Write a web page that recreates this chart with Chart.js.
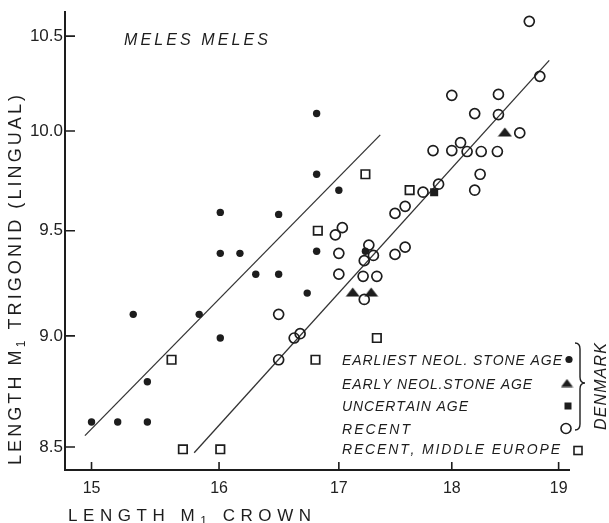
<!DOCTYPE html>
<html>
<head>
<meta charset="utf-8">
<script src="https://cdn.jsdelivr.net/npm/chart.js"></script>
<style>
  html, body { margin: 0; padding: 0; background: #fff; }
  #wrap { width: 609px; height: 523px; position: relative; }
</style>
</head>
<body>
<div id="wrap"><canvas id="chart"></canvas></div>
<script>
// Meles meles, M1 crown length vs trigonid length (log-log)
const seriesNames = ['EARLIEST NEOL. STONE AGE', 'EARLY NEOL.STONE AGE', 'UNCERTAIN AGE', 'RECENT', 'RECENT, MIDDLE EUROPE'];

const earliestX = [15.00, 15.20, 15.43, 15.43, 15.32, 15.84, 16.01, 16.01, 16.17, 16.01, 16.49, 16.30, 16.49, 16.73, 16.81, 16.81, 16.81, 17.00, 17.23];
const earliestY = [8.61, 8.61, 8.61, 8.79, 9.10, 9.10, 8.99, 9.39, 9.39, 9.59, 9.58, 9.29, 9.29, 9.20, 9.40, 9.78, 10.09, 9.70, 9.40];

const earlyX = [17.12, 17.28, 18.49];
const earlyY = [9.205, 9.205, 9.995];

const uncertainX = [17.84];
const uncertainY = [9.69];

const recentX = [16.49, 16.49, 16.62, 16.67, 16.97, 17.03, 17.00, 17.00, 17.26, 17.22, 17.30, 17.21, 17.33, 17.22,
                 17.49, 17.58, 17.49, 17.58, 17.74, 17.88, 17.83, 18.00, 18.08, 18.14, 18.27, 18.42, 18.26, 18.21,
                 18.00, 18.21, 18.43, 18.43, 18.63, 18.82, 18.72];
const recentY = [9.10, 8.89, 8.99, 9.01, 9.48, 9.515, 9.39, 9.29, 9.43, 9.355, 9.38, 9.28, 9.28, 9.17,
                 9.585, 9.62, 9.385, 9.42, 9.69, 9.73, 9.90, 9.90, 9.94, 9.895, 9.895, 9.895, 9.78, 9.70,
                 10.185, 10.09, 10.19, 10.085, 9.99, 10.285, 10.58];

const europeX = [15.62, 15.71, 16.01, 16.80, 16.82, 17.23, 17.33, 17.62];
const europeY = [8.89, 8.49, 8.49, 8.89, 9.50, 9.78, 8.99, 9.70];

// fitted lines (end points)
const fitLeftX = [14.95, 17.36];
const fitLeftY = [8.55, 9.98];
const fitRightX = [15.80, 18.91];
const fitRightY = [8.475, 10.37];

const xTicks = [15, 16, 17, 18, 19];
const yTicks = [8.5, 9.0, 9.5, 10.0, 10.5];

const ink = '#1d1d1d';
const sans = '"Liberation Sans", Arial, sans-serif';

function pts(xs, ys) {
    return xs.map((x, i) => ({x: x, y: ys[i]}));
}

function makeTriangle(w, h) {
    let c = document.createElement('canvas');
    c.width = w;
    c.height = h;
    let g = c.getContext('2d');
    g.fillStyle = ink;
    g.beginPath();
    g.moveTo(w / 2, 0.5);
    g.lineTo(w - 0.5, h - 0.5);
    g.lineTo(0.5, h - 0.5);
    g.closePath();
    g.fill();
    return c;
}

const triangle = makeTriangle(15, 10);
const legendTriangle = makeTriangle(13, 9);

// draws text with letters spread to a given length
function spaced(ctx, parts, style, x, y, len, angle) {
    ctx.save();
    ctx.translate(x, y);
    ctx.rotate(angle);
    ctx.textAlign = 'left';
    ctx.textBaseline = 'alphabetic';
    let chars = [];
    parts.forEach(p => {
        let font = style + ' ' + p.s + 'px ' + sans;
        ctx.font = font;
        for (const c of p.t) {
            chars.push({c: c, font: font, dy: p.dy || 0, w: ctx.measureText(c).width});
        }
    });
    let natural = chars.reduce((s, c) => s + c.w, 0);
    let gap = (len - natural) / (chars.length - 1);
    let cx = 0;
    chars.forEach(ch => {
        ctx.font = ch.font;
        ctx.fillText(ch.c, cx, ch.dy);
        cx += ch.w + gap;
    });
    ctx.restore();
}

const annotate = {
    id: 'annotate',
    afterDraw(chart) {
        const ctx = chart.ctx;
        const a = chart.chartArea;
        const sx = chart.scales.x;
        const sy = chart.scales.y;
        ctx.save();
        ctx.strokeStyle = ink;
        ctx.fillStyle = ink;

        // inward tick marks
        ctx.lineWidth = 1.6;
        ctx.beginPath();
        xTicks.forEach(v => {
            let p = sx.getPixelForValue(v);
            ctx.moveTo(p, a.bottom);
            ctx.lineTo(p, a.bottom - 8);
        });
        yTicks.forEach(v => {
            let p = sy.getPixelForValue(v);
            ctx.moveTo(a.left, p);
            ctx.lineTo(a.left + 10, p);
        });
        ctx.stroke();

        // axis titles
        spaced(ctx, [{t: 'LENGTH M', s: 17}, {t: '1', s: 12, dy: 4}, {t: ' CROWN', s: 17}], 'normal', 68, 521, 243, 0);
        spaced(ctx, [{t: 'LENGTH M', s: 18}, {t: '1', s: 12, dy: 4}, {t: ' TRIGONID (LINGUAL)', s: 18}], 'normal', 20.5, 465, 370, -Math.PI / 2);

        // species name
        spaced(ctx, [{t: 'MELES MELES', s: 16}], 'italic', 124, 45, 144, 0);

        // legend text
        const rows = [359.5, 383.5, 405.5, 428.5, 448.5];
        const widths = [220, 190, 126, 68, 218];
        seriesNames.forEach((name, i) => {
            spaced(ctx, [{t: name, s: 14}], 'italic', 342, rows[i] + 5, widths[i], 0);
        });

        // legend symbols
        ctx.beginPath();
        ctx.arc(569, 359.5, 3.6, 0, Math.PI * 2);
        ctx.fill();
        ctx.drawImage(legendTriangle, 567 - 6.5, 383 - 4.5);
        ctx.fillRect(568 - 3.5, 406 - 3.5, 7, 7);
        ctx.lineWidth = 1.6;
        ctx.beginPath();
        ctx.arc(566, 428.5, 5, 0, Math.PI * 2);
        ctx.stroke();
        ctx.strokeRect(578 - 4, 450.5 - 4, 8, 8);

        // brace and DENMARK
        ctx.lineWidth = 1.4;
        ctx.beginPath();
        ctx.moveTo(575, 343);
        ctx.quadraticCurveTo(580, 343, 580, 349);
        ctx.lineTo(580, 377);
        ctx.quadraticCurveTo(580, 383, 585, 383);
        ctx.quadraticCurveTo(580, 383, 580, 389);
        ctx.lineTo(580, 424);
        ctx.quadraticCurveTo(580, 430, 575, 430);
        ctx.stroke();
        spaced(ctx, [{t: 'DENMARK', s: 16}], 'italic', 606, 430, 87, -Math.PI / 2);

        ctx.restore();
    }
};

const openStyle = {backgroundColor: 'rgba(0,0,0,0)', borderColor: ink, borderWidth: 1.7};

new Chart(document.getElementById('chart'), {
    type: 'scatter',
    data: {
        datasets: [
            {label: 'fit left', data: pts(fitLeftX, fitLeftY), showLine: true, pointRadius: 0,
             borderColor: '#333', borderWidth: 1.3, order: 10},
            {label: 'fit right', data: pts(fitRightX, fitRightY), showLine: true, pointRadius: 0,
             borderColor: '#333', borderWidth: 1.3, order: 10},
            {label: seriesNames[0], data: pts(earliestX, earliestY), pointStyle: 'circle', pointRadius: 3.7,
             backgroundColor: ink, borderWidth: 0},
            {label: seriesNames[1], data: pts(earlyX, earlyY), pointStyle: triangle, pointRadius: 7},
            {label: seriesNames[2], data: pts(uncertainX, uncertainY), pointStyle: 'rect', pointRadius: 5.7,
             backgroundColor: ink, borderWidth: 0},
            Object.assign({label: seriesNames[3], data: pts(recentX, recentY), pointStyle: 'circle', pointRadius: 5}, openStyle),
            Object.assign({label: seriesNames[4], data: pts(europeX, europeY), pointStyle: 'rect', pointRadius: 6}, openStyle)
        ]
    },
    options: {
        responsive: true,
        maintainAspectRatio: false,
        animation: false,
        layout: {padding: {top: 5, right: 40, bottom: 0, left: 0}},
        plugins: {
            legend: {display: false},
            tooltip: {enabled: false}
        },
        scales: {
            x: {
                type: 'logarithmic',
                min: 14.80,
                max: 19.10,
                afterBuildTicks: s => { s.ticks = xTicks.map(v => ({value: v})); },
                afterFit: s => { s.height = 53; },
                grid: {display: false, drawTicks: false},
                border: {display: true, color: ink, width: 2},
                ticks: {
                    autoSkip: false,
                    maxRotation: 0,
                    padding: 9,
                    color: '#222',
                    font: {family: sans, size: 16},
                    callback: v => String(v)
                }
            },
            y: {
                type: 'logarithmic',
                min: 8.41,
                max: 10.63,
                afterBuildTicks: s => { s.ticks = yTicks.map(v => ({value: v})); },
                afterFit: s => { s.width = 65; },
                grid: {display: false, drawTicks: false},
                border: {display: true, color: ink, width: 2},
                ticks: {
                    autoSkip: false,
                    padding: 2,
                    color: '#222',
                    font: {family: sans, size: 17},
                    callback: v => Number(v).toFixed(1)
                }
            }
        }
    },
    plugins: [annotate]
});
</script>
</body>
</html>
